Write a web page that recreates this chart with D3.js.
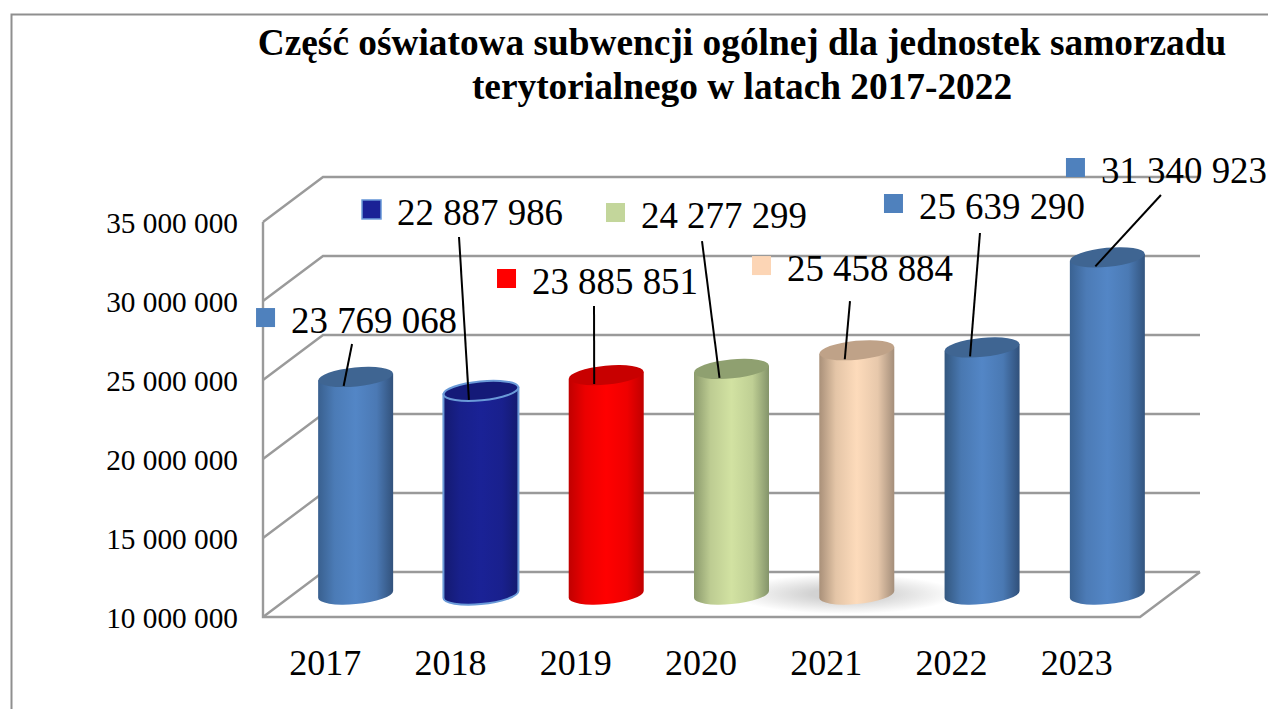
<!DOCTYPE html>
<html><head><meta charset="utf-8">
<script src="https://cdn.jsdelivr.net/npm/d3@7/dist/d3.min.js"></script>
<style>html,body{margin:0;padding:0;background:#fff}svg{display:block}text{font-family:"Liberation Serif",serif;fill:#000}</style>
</head><body><svg id="c" width="1268" height="709"></svg>
<script>
const years = ["2017","2018","2019","2020","2021","2022","2023"];
const values = [23769068,22887986,23885851,24277299,25458884,25639290,31340923];
const yTicks = [10000000,15000000,20000000,25000000,30000000,35000000];
const titleLines = ["Część oświatowa subwencji ogólnej dla jednostek samorzadu","terytorialnego w latach 2017-2022"];
const bodyColors = [
 ["#39608f","#5386c6","#32527c"],["#141a70","#1a2296","#141a70"],["#c00000","#ff0000","#c00000"],
 ["#8b9a6c","#d2e2a2","#84946a"],["#a99079","#fddbbb","#a48e7a"],["#33577f","#5386c6","#30507a"],["#3a6292","#5386c6","#33557f"]];
const topColors = ["#3f6592","#141a78","#c80000","#8fa070","#bfa288","#3f6592","#3f6592"];
const keyColors = ["#4f81bd","#1a2296","#ff0000","#c3d69b","#fcd5b5","#4f81bd","#4f81bd"];
// hand-placed label layout, relative to the centre of each cylinder top
const labelDx = [-64.6,-83.9,-74.2,-90.5,-69.8,-63.1,-6.4];
const labelDy = [-43.9,-165.9,-81.1,-140.9,-69.2,-128.4,-74.3];
const leaderDx = [-3.6,-21.9,-12.2,-29.5,-6.8,-2.1,53.6];
const leaderDy = [-32.9,-153.9,-69.1,-127.9,-49.2,-114.4,-62.3];

const svg = d3.select("#c");
const depthX = 60, depthY = 45;
const x = d3.scaleBand().domain(years).range([263,1140]);
const y = d3.scaleLinear().domain([10000000,35000000]).range([617,222]);
const fmt = d3.formatLocale({thousands:" ",grouping:[3],decimal:",",currency:["",""]}).format(",d");
const cxOf = d => x(d)+x.bandwidth()/2+depthX/2;
const rx = 37.5, ry = 9.5, tilt = -5.5, dyTilt = 3.4;
const gray = "#9a9a9a";

// frame
svg.append("path").attr("d","M11.5,709V14.5H1268").attr("fill","none").attr("stroke","#8f8f8f").attr("stroke-width",2);

// title
svg.append("g").selectAll("text").data(titleLines).join("text")
 .attr("x",742).attr("y",(d,i)=>55+i*44).attr("text-anchor","middle")
 .attr("font-size",37.35).attr("font-weight","bold").text(d=>d);

const defs = svg.append("defs");
const sh = defs.append("radialGradient").attr("id","sh");
sh.append("stop").attr("offset","0.3").attr("stop-color","#d2d2d2");
sh.append("stop").attr("offset","1").attr("stop-color","#ffffff");

// floor shadow sits behind the wall lines
svg.append("ellipse").attr("cx",845).attr("cy",594).attr("rx",112).attr("ry",20).attr("fill","url(#sh)");

// walls and floor
const grid = svg.append("g").attr("fill","none").attr("stroke",gray).attr("stroke-width",2.4);
yTicks.forEach(t=>{
 const yy=y(t);
 grid.append("path").attr("d",`M263,${yy}L${263+depthX},${yy-depthY}H${1140+depthX}`);
});
grid.append("path").attr("d",`M263,${y(35000000)}V${y(10000000)}H1140L${1140+depthX},${y(10000000)-depthY}`);

// tick labels
svg.append("g").selectAll("text").data(yTicks).join("text")
 .attr("x",238).attr("y",d=>y(d)+11).attr("text-anchor","end").attr("font-size",29.3).text(fmt);
svg.append("g").selectAll("text").data(years).join("text")
 .attr("x",d=>x(d)+x.bandwidth()/2-0.5).attr("y",675).attr("text-anchor","middle").attr("font-size",36).text(d=>d);

// cylinders
years.forEach((yr,i)=>{
 const g=defs.append("linearGradient").attr("id","g"+i);
 g.append("stop").attr("offset","0").attr("stop-color",bodyColors[i][0]);
 g.append("stop").attr("offset","0.22").attr("stop-color",d3.interpolateRgb(bodyColors[i][0],bodyColors[i][1])(.7));
 g.append("stop").attr("offset","0.5").attr("stop-color",bodyColors[i][1]);
 g.append("stop").attr("offset","0.78").attr("stop-color",d3.interpolateRgb(bodyColors[i][2],bodyColors[i][1])(.75));
 g.append("stop").attr("offset","1").attr("stop-color",bodyColors[i][2]);
});
const bars = svg.append("g").selectAll("g").data(years).join("g");
bars.each(function(yr,i){
 const s=d3.select(this), cx=cxOf(yr);
 const top=y(values[i])-depthY/2, base=y(10000000)-depthY/2;
 const stroke = i==1 ? "#6a9ad8" : "none";
 s.append("path")
  .attr("d",`M${cx-rx},${top+dyTilt}L${cx-rx},${base+dyTilt}A${rx},${ry} ${tilt} 0 0 ${cx+rx},${base-dyTilt}L${cx+rx},${top-dyTilt}Z`)
  .attr("fill",`url(#g${i})`).attr("stroke",stroke).attr("stroke-width",2);
 s.append("ellipse").attr("cx",cx).attr("cy",top).attr("rx",rx).attr("ry",ry)
  .attr("transform",`rotate(${tilt} ${cx} ${top})`)
  .attr("fill",topColors[i]).attr("stroke",stroke).attr("stroke-width",2);
});

// leaders and labels
const labels = svg.append("g").selectAll("g").data(years).join("g");
labels.each(function(yr,i){
 const s=d3.select(this), cx=cxOf(yr), top=y(values[i])-depthY/2;
 s.append("line").attr("x1",cx-12).attr("y1",top+9).attr("x2",cx+leaderDx[i]).attr("y2",top+leaderDy[i])
  .attr("stroke","#000").attr("stroke-width",2);
 const tx=cx+labelDx[i], ty=top+labelDy[i];
 s.append("rect").attr("x",tx-35).attr("y",ty-25).attr("width",19).attr("height",19)
  .attr("fill",keyColors[i]).attr("stroke",i==1?"#6a9ad8":"none").attr("stroke-width",1.5);
 s.append("text").attr("x",tx).attr("y",ty).attr("font-size",36.9).text(fmt(values[i]));
});
</script></body></html>
